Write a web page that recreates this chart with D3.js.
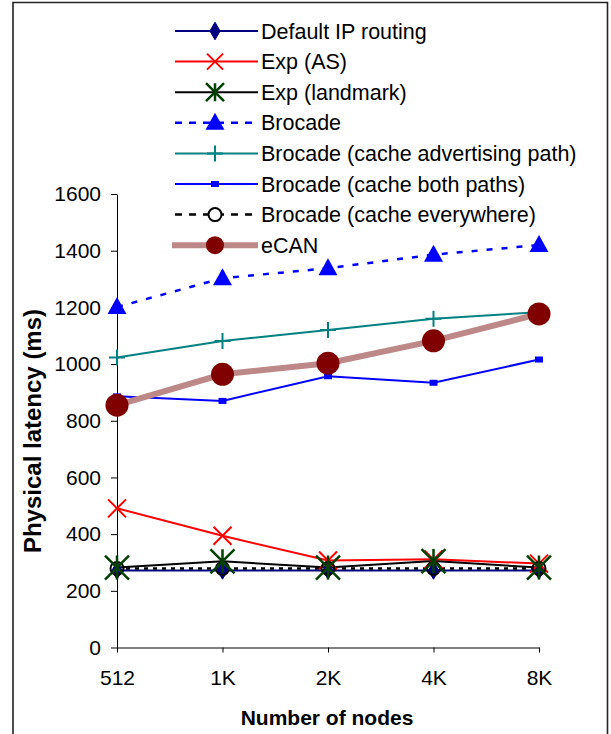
<!DOCTYPE html>
<html>
<head>
<meta charset="utf-8">
<script src="https://cdn.jsdelivr.net/npm/d3@7"></script>
<style>
  body { margin: 0; background: #fff; }
  svg { display: block; font-family: "Liberation Sans", Arial, sans-serif; }
</style>
</head>
<body>
<svg id="chart" width="611" height="734"></svg>
<script>
// Node counts along the x axis
const nodeCounts = ['512', '1K', '2K', '4K', '8K'];
const yTicks = [0, 200, 400, 600, 800, 1000, 1200, 1400, 1600];

// Latency (ms) for each scheme
const defaultIP = [272, 272, 272, 272, 272];
const expAS = [491, 394, 307, 311, 296];
const expLandmark = [282, 304, 282, 305, 282];
const brocade = [1201, 1303, 1338, 1386, 1420];
const cacheAdvertising = [1023, 1081, 1120, 1160, 1183];
const cacheBoth = [886, 870, 957, 934, 1016];
const cacheEverywhere = [279, 279, 279, 279, 279];
const eCAN = [855, 964, 1003, 1082, 1177];

const seriesNames = [
  'Default IP routing', 'Exp (AS)', 'Exp (landmark)', 'Brocade',
  'Brocade (cache advertising path)', 'Brocade (cache both paths)',
  'Brocade (cache everywhere)', 'eCAN'
];

// Styles per series (drawing order = legend order)
const series = [
  {name: seriesNames[0], values: defaultIP, color: '#000080', width: 2, dash: null, marker: 'diamond'},
  {name: seriesNames[1], values: expAS, color: '#ff0000', width: 2, dash: null, marker: 'cross'},
  {name: seriesNames[2], values: expLandmark, color: '#000000', width: 2, dash: null, marker: 'star'},
  {name: seriesNames[3], values: brocade, color: '#0000ff', width: 2.5, dash: '6,9', marker: 'triangle'},
  {name: seriesNames[4], values: cacheAdvertising, color: '#008080', width: 2, dash: null, marker: 'plus'},
  {name: seriesNames[5], values: cacheBoth, color: '#0000ff', width: 2, dash: null, marker: 'square'},
  {name: seriesNames[6], values: cacheEverywhere, color: '#000000', width: 2.5, dash: '4,5', marker: 'circle'},
  {name: seriesNames[7], values: eCAN, color: '#bc8888', width: 6, dash: null, marker: 'dot'}
];

const svg = d3.select('#chart');

// Outer frame
svg.append('path')
  .attr('d', 'M13,736 L13,2.5 L607.5,2.5 L607.5,736')
  .attr('fill', 'none')
  .attr('stroke', '#222')
  .attr('stroke-width', 1.6);

const x = d3.scalePoint().domain(nodeCounts).range([117, 539]);
const y = d3.scaleLinear().domain([0, 1600]).range([647.5, 194]);

// Axes
const yAxis = svg.append('g')
  .attr('transform', 'translate(117,0)')
  .call(d3.axisLeft(y).tickValues(yTicks).tickFormat(d3.format('d'))
    .tickSize(6).tickSizeOuter(0).tickPadding(10));
const xAxis = svg.append('g')
  .attr('transform', 'translate(0,647.5)')
  .call(d3.axisBottom(x).tickSize(5).tickSizeOuter(0).tickPadding(18));
for (let ax of [xAxis, yAxis]) {
  ax.select('.domain').attr('stroke', '#000').attr('stroke-width', 1);
  ax.selectAll('.tick line').attr('stroke', '#000');
  ax.selectAll('text')
    .attr('font-size', 21)
    .attr('font-family', '"Liberation Sans", Arial, sans-serif')
    .attr('fill', '#000');
}

// Axis titles
svg.append('text')
  .attr('x', 327).attr('y', 725)
  .attr('text-anchor', 'middle')
  .attr('font-size', 21).attr('font-weight', 'bold')
  .text('Number of nodes');
svg.append('text')
  .attr('transform', 'translate(41,431) rotate(-90)')
  .attr('text-anchor', 'middle')
  .attr('font-size', 24).attr('font-weight', 'bold')
  .text('Physical latency (ms)');

// Marker shapes, drawn at (0,0)
function drawMarker(g, s, big) {
  let k = big ? 1 : 0.75;
  if (s.marker === 'diamond') {
    g.append('path').attr('d', d3.symbol(d3.symbolDiamond, 90))
      .attr('fill', s.color).attr('stroke', s.color);
  } else if (s.marker === 'cross') {
    let r = big ? 9 : 8;
    g.append('path').attr('d', `M${-r},${-r}L${r},${r}M${-r},${r}L${r},${-r}`)
      .attr('stroke', s.color).attr('stroke-width', 2);
  } else if (s.marker === 'star') {
    let r = 12 * k;
    g.append('path')
      .attr('d', `M${-r},${-r}L${r},${r}M${-r},${r}L${r},${-r}M0,${-r}L0,${r}`)
      .attr('stroke', '#004000').attr('stroke-width', 2.5);
  } else if (s.marker === 'triangle') {
    g.append('path').attr('d', 'M0,-10L9.5,7L-9.5,7Z').attr('fill', s.color);
  } else if (s.marker === 'plus') {
    let r = 8;
    g.append('path').attr('d', `M${-r},0L${r},0M0,${-r}L0,${r}`)
      .attr('stroke', s.color).attr('stroke-width', 2);
  } else if (s.marker === 'square') {
    g.append('rect').attr('x', -4).attr('y', -3).attr('width', 8).attr('height', 6)
      .attr('fill', s.color);
  } else if (s.marker === 'circle') {
    g.append('circle').attr('r', 6.5).attr('fill', big ? 'none' : '#fff')
      .attr('stroke', '#000').attr('stroke-width', 2);
  } else if (s.marker === 'dot') {
    g.append('circle').attr('r', big ? 11.5 : 9).attr('fill', '#800000');
  }
}

// Lines and markers
const line = d3.line().x((d, i) => x(nodeCounts[i])).y(d => y(d));
for (let s of series) {
  svg.append('path')
    .datum(s.values)
    .attr('d', line)
    .attr('fill', 'none')
    .attr('stroke', s.color)
    .attr('stroke-width', s.width)
    .attr('stroke-dasharray', s.dash);
}
// Markers go on top of all lines; star markers last among the low cluster
const markerOrder = [0, 1, 6, 2, 3, 4, 5, 7];
for (let idx of markerOrder) {
  let s = series[idx];
  s.values.forEach((v, i) => {
    let g = svg.append('g').attr('transform', `translate(${x(nodeCounts[i])},${y(v)})`);
    drawMarker(g, s, true);
  });
}

// Legend
const legend = svg.append('g');
series.forEach((s, i) => {
  let cy = 31 + i * 30.6;
  let row = legend.append('g').attr('transform', `translate(0,${cy})`);
  row.append('line')
    .attr('x1', s.marker === 'dot' ? 172 : 175).attr('x2', 258)
    .attr('y1', 0).attr('y2', 0)
    .attr('stroke', s.color)
    .attr('stroke-width', s.width)
    .attr('stroke-dasharray', s.dash ? '7,7' : null);
  drawMarker(row.append('g').attr('transform', 'translate(215,0)'), s, false);
  row.append('text')
    .attr('x', 261).attr('y', 7.5)
    .attr('font-size', 21.5)
    .text(s.name);
});
</script>
</body>
</html>
